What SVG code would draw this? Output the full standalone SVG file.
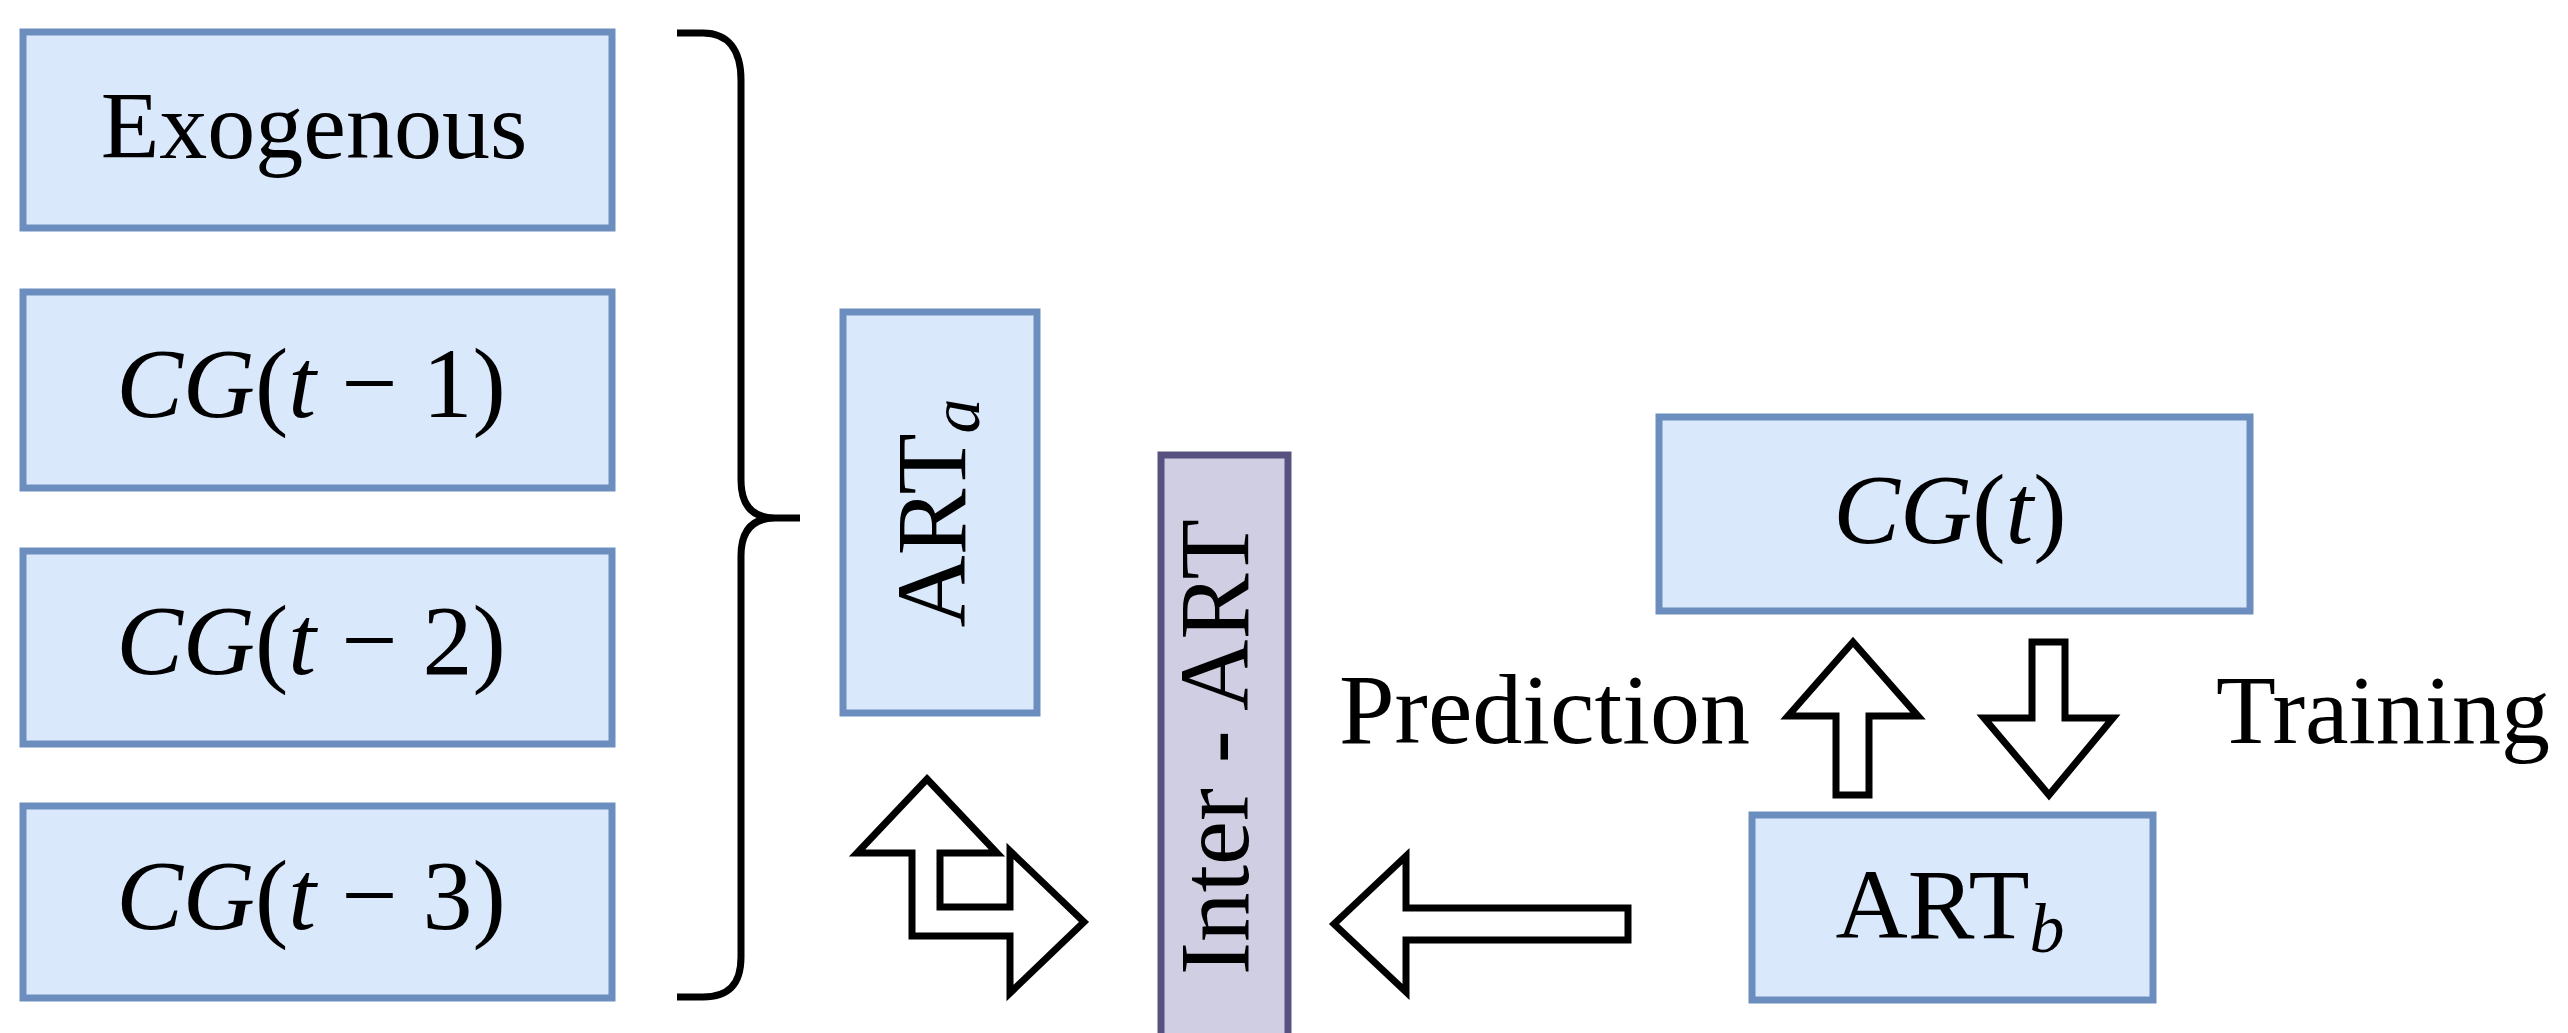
<svg xmlns="http://www.w3.org/2000/svg" width="2568" height="1033" viewBox="0 0 2568 1033">
<style>
.blue{fill:#dae8fc;stroke:#6c8ebf;stroke-width:7}
.purple{fill:#d0cee2;stroke:#56517e;stroke-width:7}
.t{font-family:"Liberation Serif","Times New Roman",serif;font-size:96px;fill:#000}
.m{font-size:100px}
.c{text-anchor:middle}
.i{font-style:italic}
.sub{font-style:italic;font-size:70px}
.arr{fill:#fff;stroke:#000;stroke-width:7;stroke-linejoin:miter}
.brace{fill:none;stroke:#000;stroke-width:7}
</style>
<rect width="2568" height="1033" fill="#fff"/>
<g id="exogenous">
<rect class="blue" x="23" y="32" width="589" height="196"/>
<text class="t c" x="314" y="158">Exogenous</text>
</g>
<g id="cg-t-1">
<rect class="blue" x="23" y="292" width="589" height="196"/>
<text class="t m c" x="311" y="417"><tspan class="i">CG</tspan>(<tspan class="i">t</tspan> − 1)</text>
</g>
<g id="cg-t-2">
<rect class="blue" x="23" y="551" width="589" height="193"/>
<text class="t m c" x="311" y="674"><tspan class="i">CG</tspan>(<tspan class="i">t</tspan> − 2)</text>
</g>
<g id="cg-t-3">
<rect class="blue" x="23" y="806" width="589" height="192"/>
<text class="t m c" x="311" y="929"><tspan class="i">CG</tspan>(<tspan class="i">t</tspan> − 3)</text>
</g>
<g id="art-a">
<rect class="blue" x="843" y="312" width="194" height="401"/>
<text class="t m c" transform="translate(965,513) rotate(-90)" x="0" y="0">ART<tspan class="sub" dy="14">a</tspan></text>
</g>
<g id="inter-art">
<rect class="purple" x="1161" y="455" width="127" height="620"/>
<text class="t c" style="font-size:99px" transform="translate(1248,747) rotate(-90)" x="0" y="0">Inter - ART</text>
</g>
<g id="cg-t">
<rect class="blue" x="1659" y="417" width="591" height="194"/>
<text class="t m c" x="1950" y="543"><tspan class="i">CG</tspan>(<tspan class="i">t</tspan>)</text>
</g>
<g id="art-b">
<rect class="blue" x="1752" y="815" width="401" height="185"/>
<text class="t m c" x="1950" y="938">ART<tspan class="sub" dy="14">b</tspan></text>
</g>
<g id="connectors">
<path class="brace" d="M677,33 L703,33 C728,33 741,50 741,80 L741,480 C741,505 752,518 775,518 L800,518 M775,518 C752,518 741,531 741,556 L741,957 C741,985 728,997 703,997 L677,997"/>
<polygon class="arr" points="927,779 997,853 940,853 940,907 1010,907 1010,851 1084,922 1010,993 1010,936 912,936 912,853 857,853"/>
<polygon class="arr" points="1334,924 1406,856 1406,908 1628,908 1628,940 1406,940 1406,992"/>
<polygon class="arr" points="1853,642 1918,716 1869,716 1869,795 1836,795 1836,716 1788,716"/>
<polygon class="arr" points="2032,642 2065,642 2065,718 2113,718 2049,795 1984,718 2032,718"/>
<text class="t" style="font-size:100px" x="1339" y="743">Prediction</text>
<text class="t" style="font-size:98px" x="2216" y="743">Training</text>
</g>
</svg>
